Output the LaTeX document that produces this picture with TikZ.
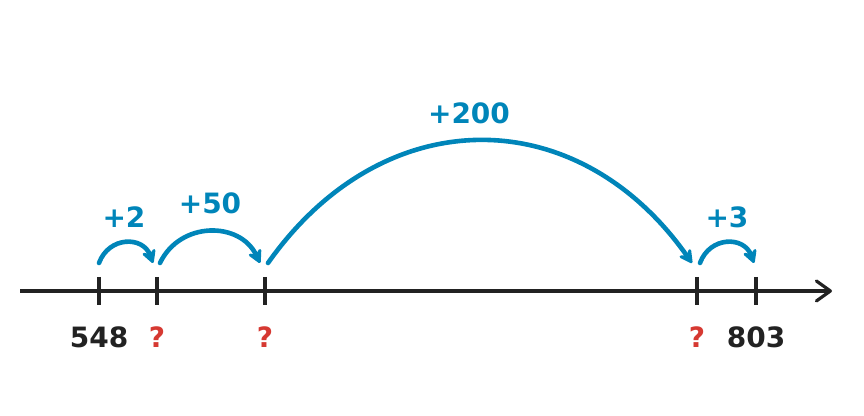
\documentclass[tikz,border=0pt]{standalone}
\usepackage{fontspec}
\setmainfont{DejaVu Sans}
\usetikzlibrary{arrows.meta,positioning}
\definecolor{jump}{RGB}{0,133,185}
\definecolor{ink}{RGB}{34,34,34}
\definecolor{unknown}{RGB}{214,57,50}

\begin{document}
\begin{tikzpicture}[x=0.5pt,y=-0.5pt,
    axis/.style={line width=1.6pt,color=ink,-{Straight Barb[length=7pt,width=10pt,round]}},
    tick/.style={line width=1.6pt,color=ink},
    hop/.style={line width=2.3pt,color=jump,line cap=round,-{Stealth[length=8.5pt,width=9pt,inset=3pt,round]}},
    num/.style={font=\bfseries\fontsize{14}{16}\selectfont,text=ink,inner sep=0pt},
    miss/.style={num,text=unknown},
    jmp/.style={font=\bfseries\fontsize{14}{16}\selectfont,text=jump,inner sep=0pt,above=6.5pt}]
    \useasboundingbox (0,0) rectangle (864,416);
    % number line
    \coordinate (L) at (20,291);
    \coordinate (R) at (832,291);
    \draw[axis] (L) -- (R);
    \foreach \x/\i in {99/0,157/1,265/2,697/3,756/4} {
        \coordinate (T_\i) at (\x,291);
        \draw[tick] (T_\i) ++(0,-14) -- ++(0,28);
    }
    \node[num]  (N_0) at (99,337)  {548};
    \node[miss] (N_1) at (157,337) {?};
    \node[miss] (N_2) at (265,337) {?};
    \node[miss] (N_3) at (697,337) {?};
    \node[num]  (N_4) at (756,337) {803};
    % jumps
    \coordinate (A_0) at (99,263);  \coordinate (B_0) at (153,263);
    \coordinate (A_1) at (160,263); \coordinate (B_1) at (260,263);
    \coordinate (A_2) at (268,263); \coordinate (B_2) at (692,263);
    \coordinate (A_3) at (700,263); \coordinate (B_3) at (754,263);
    \draw[hop] (A_0) .. controls +(10,-27) and +(-10,-27) .. (B_0)
        node[jmp,pos=.5,xshift=-1pt] {+2};
    \draw[hop] (A_1) .. controls +(20,-42) and +(-20,-42) .. (B_1)
        node[jmp,pos=.5,above=7.5pt] {+50};
    \draw[hop] (A_2) .. controls +(115,-163) and +(-115,-163) .. (B_2)
        node[jmp,pos=.5,above=7.5pt,xshift=-5.5pt] {+200};
    \draw[hop] (A_3) .. controls +(10,-27) and +(-10,-27) .. (B_3)
        node[jmp,pos=.5] {+3};
\end{tikzpicture}
\end{document}
